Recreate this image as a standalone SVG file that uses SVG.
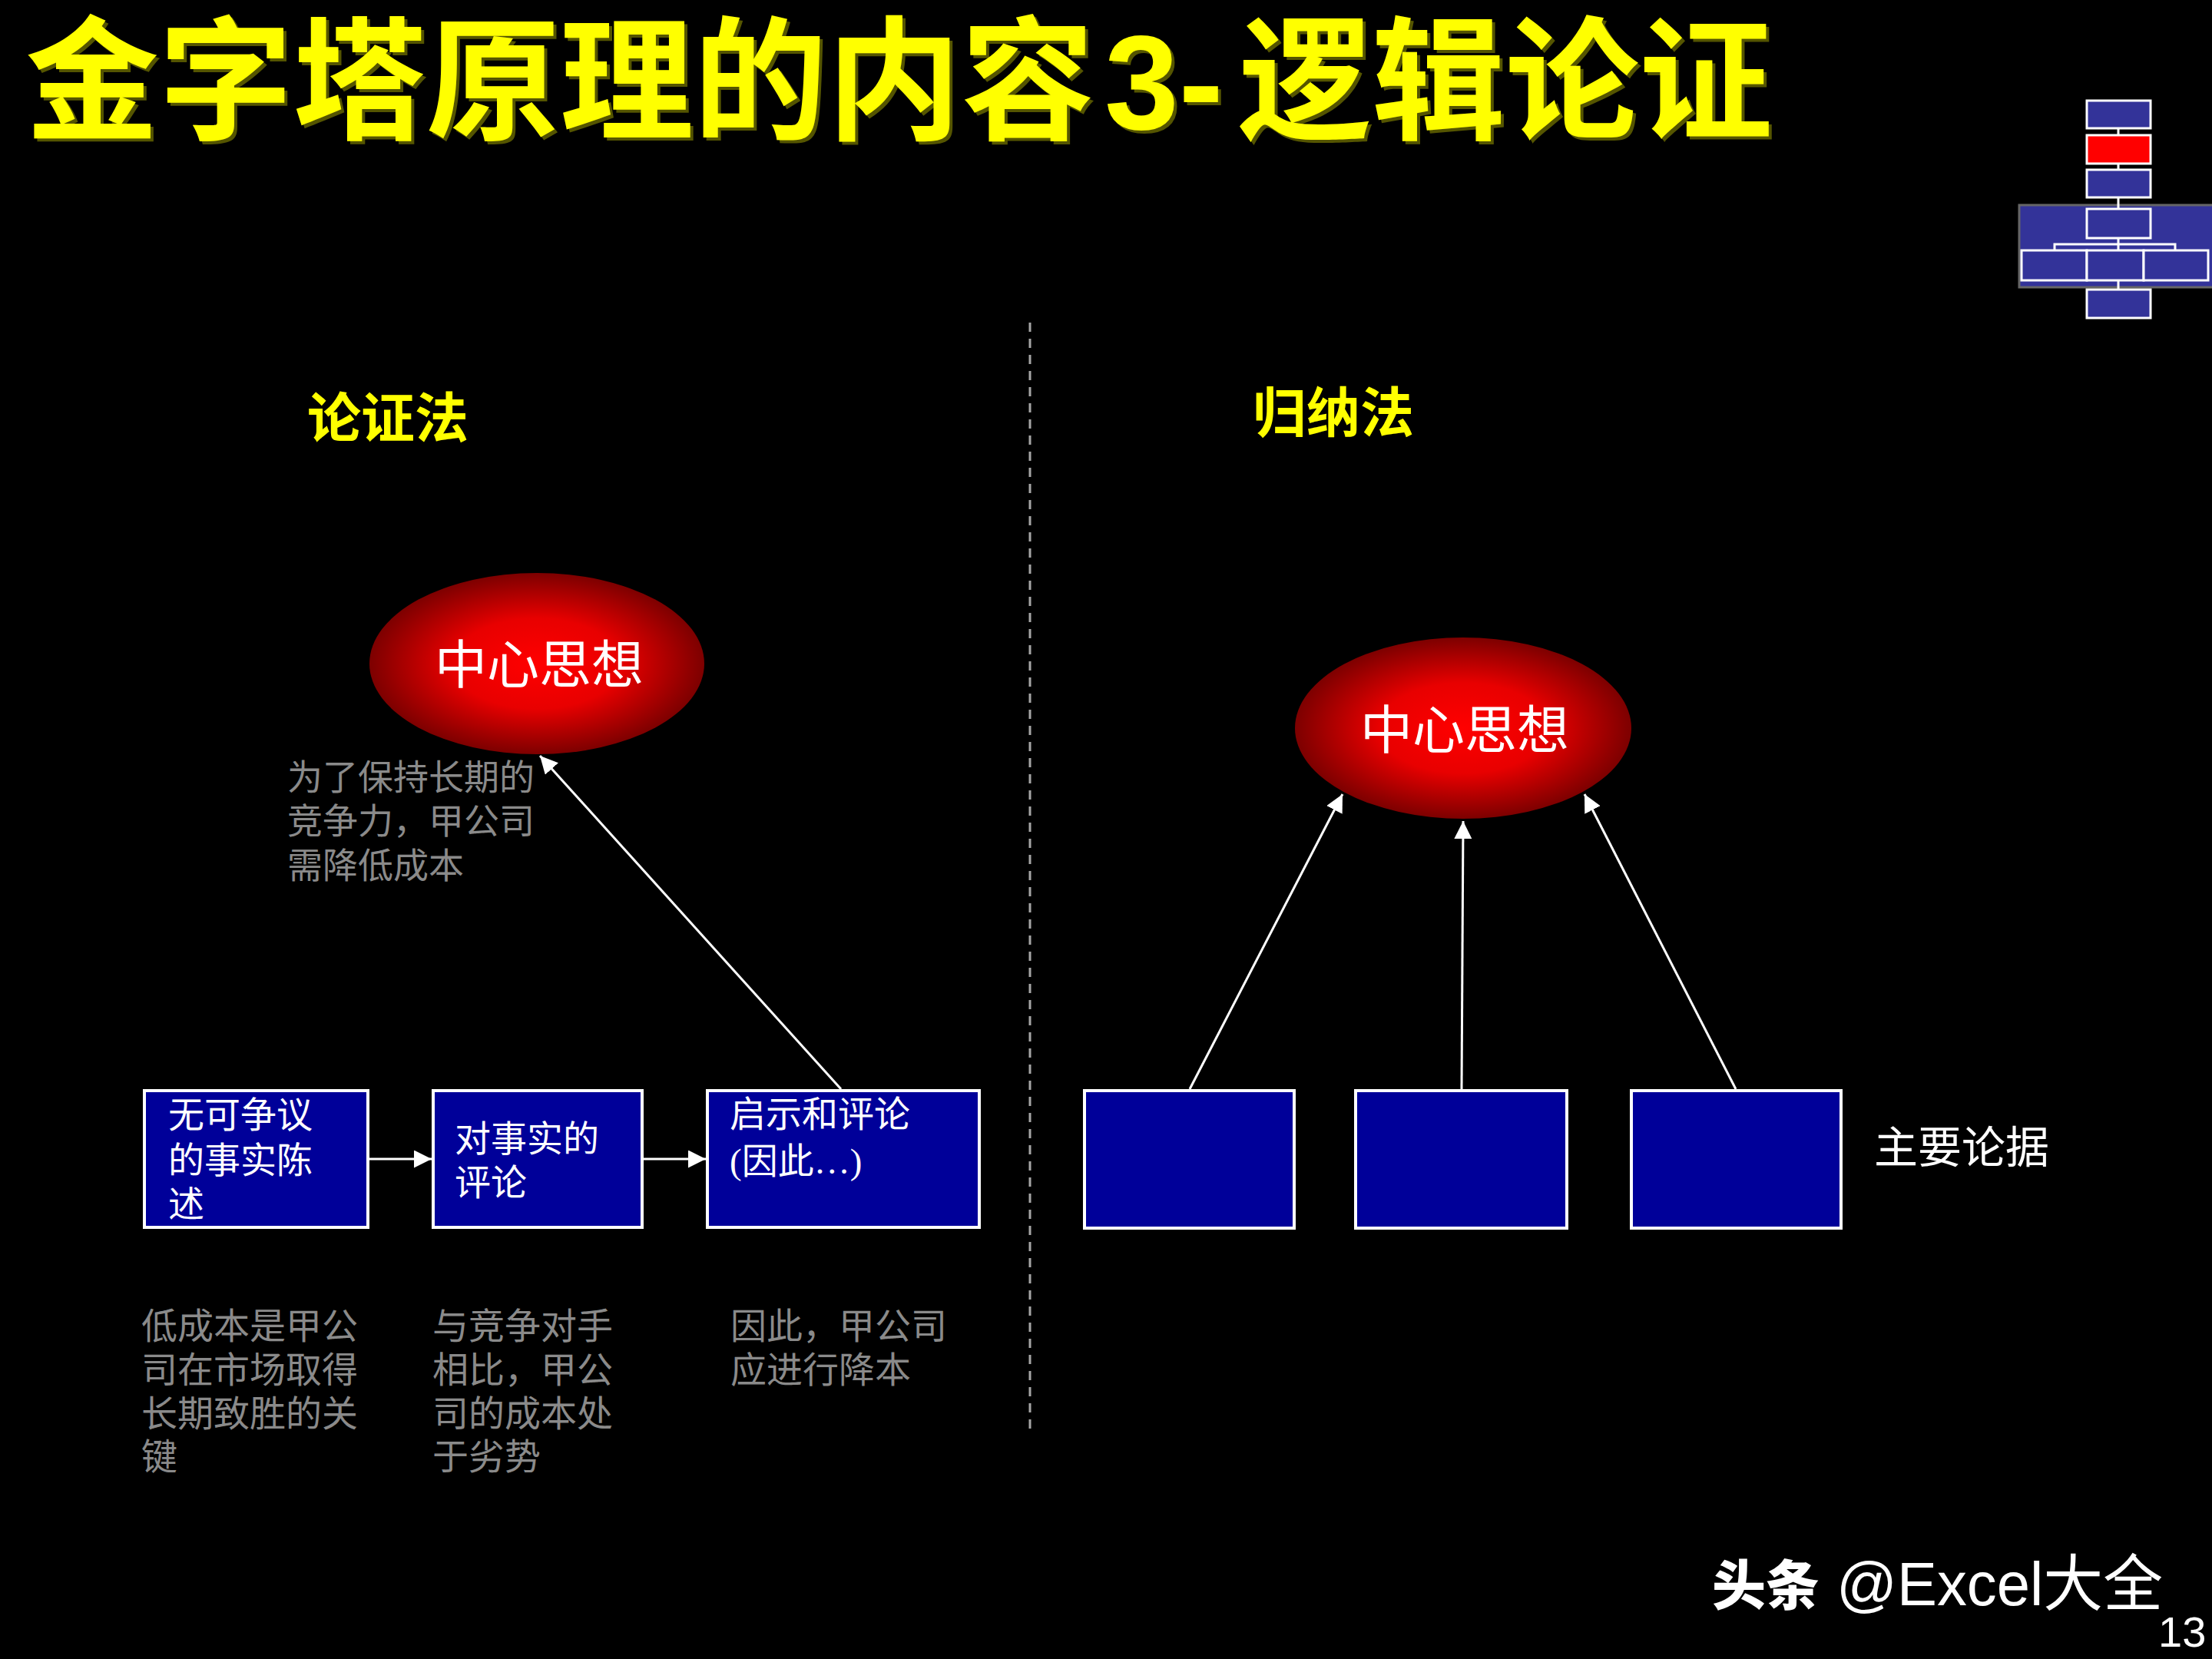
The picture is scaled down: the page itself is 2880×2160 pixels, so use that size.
<svg xmlns="http://www.w3.org/2000/svg" width="2880" height="2160" viewBox="0 0 2880 2160">
<defs>
<style>
.title{font-family:"Liberation Sans","Noto Sans CJK SC",sans-serif;font-size:174px;font-weight:bold}
.head{font-family:"Liberation Sans","Noto Sans CJK SC",sans-serif;font-size:70px;font-weight:bold;fill:#ffff00}
.box{fill:#000099;stroke:#ffffff;stroke-width:4}
.ibox{fill:#333399;stroke:#ffffff;stroke-width:3}
.wt{fill:#ffffff;font-family:"Liberation Serif","Noto Sans CJK SC",serif;font-size:47px}
.gt{fill:#8a8a8a;font-family:"Liberation Serif","Noto Sans CJK SC",serif;font-size:47px}
.ct{fill:#ffffff;font-family:"Liberation Sans","Noto Sans CJK SC",sans-serif;font-size:68px;text-anchor:middle}
.conn{stroke:#ffffff;stroke-width:3;fill:none}
.iconn{stroke:#ffffff;stroke-width:3;fill:none}
</style>
<radialGradient id="redBall" cx="50%" cy="50%" r="50%">
<stop offset="0" stop-color="#ff0000"/>
<stop offset="0.5" stop-color="#e80000"/>
<stop offset="1" stop-color="#7d0000"/>
</radialGradient>
<marker id="ah" markerUnits="userSpaceOnUse" markerWidth="24" markerHeight="24" refX="23" refY="11.5" orient="auto">
<path d="M0,0 L23,11.5 L0,23 z" fill="#ffffff"/>
</marker>
</defs>
<rect x="0" y="0" width="2880" height="2160" fill="#000000"/>

<g id="title">
<text class="title" fill="#555500" transform="translate(4,4)"><tspan x="33" y="168">金字塔原理的内容</tspan><tspan x="1438" y="168">3-</tspan><tspan x="1612" y="168">逻辑论证</tspan></text>
<text class="title" fill="#ffff00"><tspan x="33" y="168">金字塔原理的内容</tspan><tspan x="1438" y="168">3-</tspan><tspan x="1612" y="168">逻辑论证</tspan></text>
</g>

<g id="nav-icon">
<rect x="2629" y="267" width="260" height="107" fill="#333399" stroke="#666666" stroke-width="3"/>
<line class="iconn" x1="2758" y1="167" x2="2758" y2="176"/>
<line class="iconn" x1="2758" y1="213" x2="2758" y2="221"/>
<line class="iconn" x1="2758" y1="257" x2="2758" y2="272"/>
<line class="iconn" x1="2758" y1="310" x2="2758" y2="326"/>
<polyline class="iconn" points="2675,326 2675,318 2832,318 2832,326"/>
<line class="iconn" x1="2758" y1="365" x2="2758" y2="377"/>
<rect class="ibox" x="2717" y="131" width="83" height="36"/>
<rect class="ibox" x="2717" y="176" width="83" height="37" style="fill:#ff0000"/>
<rect class="ibox" x="2717" y="221" width="83" height="36"/>
<rect class="ibox" x="2717" y="272" width="83" height="38"/>
<rect class="ibox" x="2632" y="326" width="85" height="39"/>
<rect class="ibox" x="2717" y="326" width="74" height="39"/>
<rect class="ibox" x="2791" y="326" width="84" height="39"/>
<rect class="ibox" x="2717" y="377" width="83" height="37"/>
</g>

<g id="divider">
<line x1="1341" y1="420" x2="1341" y2="1860" stroke="#a6a6a6" stroke-width="3" stroke-dasharray="12 9"/>
</g>

<g id="head-left"><text class="head" x="400" y="570">论证法</text></g>
<g id="head-right"><text class="head" x="1631" y="563">归纳法</text></g>

<g id="connectors">
<line class="conn" x1="1095" y1="1418" x2="703" y2="984" marker-end="url(#ah)"/>
<line class="conn" x1="481" y1="1509" x2="562" y2="1509" marker-end="url(#ah)"/>
<line class="conn" x1="838" y1="1509" x2="919" y2="1509" marker-end="url(#ah)"/>
<line class="conn" x1="1549" y1="1418" x2="1748" y2="1034" marker-end="url(#ah)"/>
<line class="conn" x1="1903" y1="1418" x2="1905" y2="1069" marker-end="url(#ah)"/>
<line class="conn" x1="2260" y1="1418" x2="2063" y2="1034" marker-end="url(#ah)"/>
</g>

<g id="center-left">
<ellipse cx="699" cy="864" rx="218" ry="118" fill="url(#redBall)"/>
<text class="ct" x="702" y="890">中心思想</text>
</g>

<g id="note-left">
<text class="gt" style="font-size:46px"><tspan x="374" y="1028">为了保持长期的</tspan><tspan x="374" y="1085">竞争力，甲公司</tspan><tspan x="374" y="1143">需降低成本</tspan></text>
</g>

<g id="box-fact">
<rect class="box" x="188" y="1420" width="291" height="178"/>
<text class="wt"><tspan x="219" y="1468">无可争议</tspan><tspan x="219" y="1527">的事实陈</tspan><tspan x="219" y="1584">述</tspan></text>
</g>
<g id="box-comment">
<rect class="box" x="564" y="1420" width="272" height="178"/>
<text class="wt"><tspan x="592" y="1499">对事实的</tspan><tspan x="592" y="1556">评论</tspan></text>
</g>
<g id="box-insight">
<rect class="box" x="921" y="1420" width="354" height="178"/>
<text class="wt"><tspan x="950" y="1467">启示和评论</tspan><tspan x="950" y="1528">(因此…)</tspan></text>
</g>

<g id="note-fact">
<text class="gt"><tspan x="184" y="1743">低成本是甲公</tspan><tspan x="184" y="1800">司在市场取得</tspan><tspan x="184" y="1857">长期致胜的关</tspan><tspan x="184" y="1913">键</tspan></text>
</g>
<g id="note-comment">
<text class="gt"><tspan x="563" y="1743">与竞争对手</tspan><tspan x="563" y="1800">相比，甲公</tspan><tspan x="563" y="1857">司的成本处</tspan><tspan x="563" y="1913">于劣势</tspan></text>
</g>
<g id="note-insight">
<text class="gt"><tspan x="951" y="1743">因此，甲公司</tspan><tspan x="951" y="1800">应进行降本</tspan></text>
</g>

<g id="center-right">
<ellipse cx="1905" cy="948" rx="219" ry="118" fill="url(#redBall)"/>
<text class="ct" x="1907" y="975">中心思想</text>
</g>

<g id="arg-1"><rect class="box" x="1412" y="1420" width="273" height="179"/></g>
<g id="arg-2"><rect class="box" x="1765" y="1420" width="275" height="179"/></g>
<g id="arg-3"><rect class="box" x="2124" y="1420" width="273" height="179"/></g>
<g id="arg-label"><text class="wt" style="font-size:57px" x="2440" y="1514">主要论据</text></g>

<g id="watermark">
<text x="2229" y="2090" fill="#ffffff" font-family="Noto Sans CJK SC,sans-serif" font-weight="900" font-size="70">头条</text>
<text x="2391" y="2090" fill="#ffffff" font-family="Liberation Sans,Noto Sans CJK SC,sans-serif" font-size="80" textLength="425" lengthAdjust="spacingAndGlyphs">@Excel大全</text>
<text x="2810" y="2144" fill="#ffffff" font-family="Liberation Sans,sans-serif" font-size="56">13</text>
</g>
</svg>
